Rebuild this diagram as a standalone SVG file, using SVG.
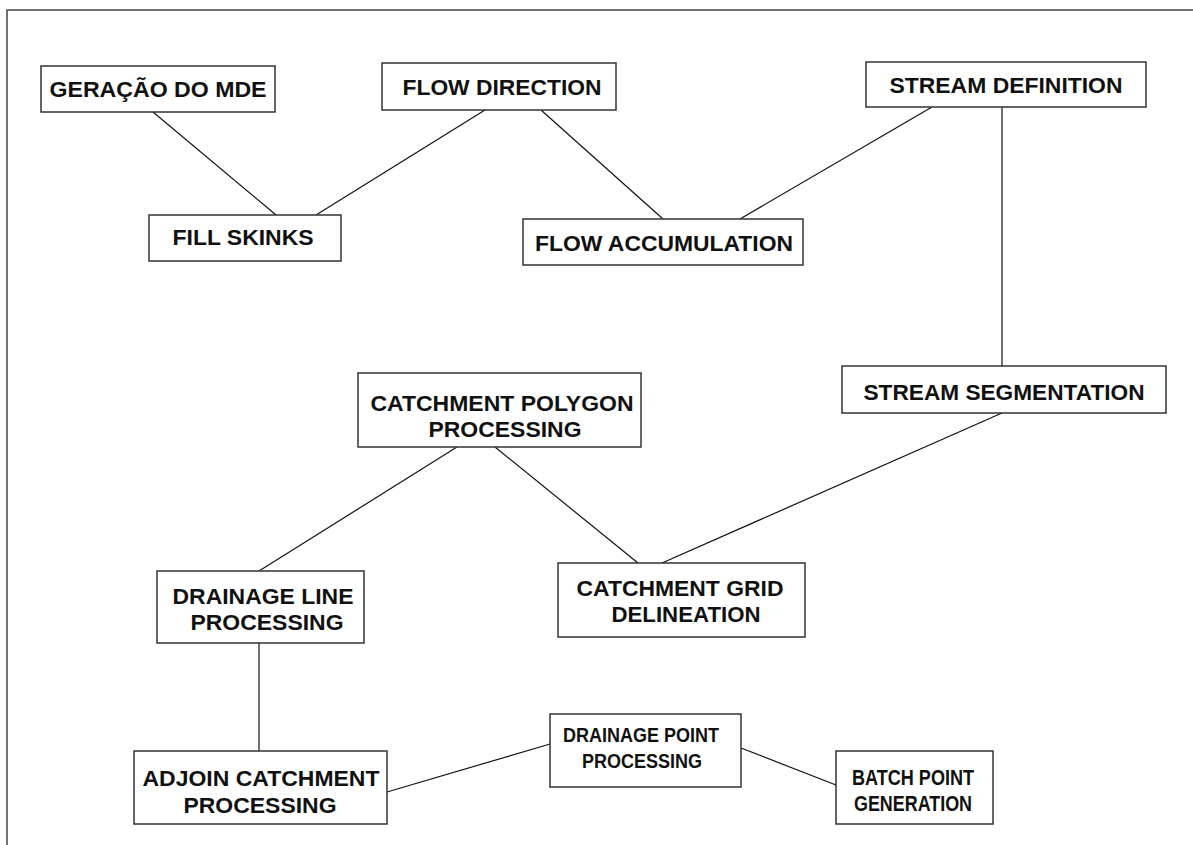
<svg xmlns="http://www.w3.org/2000/svg" width="1193" height="845" viewBox="0 0 1193 845">
<style>
  .box { fill: #ffffff; stroke: #333333; stroke-width: 1.5; }
  .lbl { font-family: "Liberation Sans", Arial, sans-serif; font-weight: bold; font-size: 22.5px; fill: #111111; text-anchor: middle; }
  .edge { stroke: #111111; stroke-width: 1.2; fill: none; }
  .frame { stroke: #444444; stroke-width: 1.5; fill: none; }
</style>
<rect x="0" y="0" width="1193" height="845" fill="#ffffff"/>
<path class="frame" d="M7,845 L7,10 L1193,10"/>

<g id="connectors">
  <line class="edge" x1="153" y1="112" x2="276" y2="215"/>
  <line class="edge" x1="485" y1="110" x2="316" y2="215"/>
  <line class="edge" x1="541" y1="110" x2="663" y2="219"/>
  <line class="edge" x1="740" y1="219" x2="932" y2="107"/>
  <line class="edge" x1="1002" y1="107" x2="1002" y2="366"/>
  <line class="edge" x1="1002" y1="413" x2="662" y2="563"/>
  <line class="edge" x1="457" y1="447" x2="259" y2="571"/>
  <line class="edge" x1="495" y1="447" x2="638" y2="563"/>
  <line class="edge" x1="259" y1="643" x2="259" y2="751"/>
  <line class="edge" x1="387" y1="792" x2="550" y2="744"/>
  <line class="edge" x1="741" y1="748" x2="836" y2="785"/>
</g>

<g id="node-geracao">
  <rect class="box" x="41" y="66" width="234" height="46"/>
  <text class="lbl" x="158" y="97" textLength="217" lengthAdjust="spacingAndGlyphs">GERAÇÃO DO MDE</text>
</g>
<g id="node-flow-direction">
  <rect class="box" x="382" y="63" width="234" height="47"/>
  <text class="lbl" x="502" y="95" textLength="199" lengthAdjust="spacingAndGlyphs">FLOW DIRECTION</text>
</g>
<g id="node-stream-definition">
  <rect class="box" x="866" y="62" width="280" height="45"/>
  <text class="lbl" x="1006" y="93" textLength="233" lengthAdjust="spacingAndGlyphs">STREAM DEFINITION</text>
</g>
<g id="node-fill-skinks">
  <rect class="box" x="149" y="215" width="192" height="46"/>
  <text class="lbl" x="243" y="245" textLength="141" lengthAdjust="spacingAndGlyphs">FILL SKINKS</text>
</g>
<g id="node-flow-accumulation">
  <rect class="box" x="523" y="219" width="280" height="46"/>
  <text class="lbl" x="664" y="251" textLength="258" lengthAdjust="spacingAndGlyphs">FLOW ACCUMULATION</text>
</g>
<g id="node-stream-segmentation">
  <rect class="box" x="842" y="366" width="324" height="47"/>
  <text class="lbl" x="1004" y="400" textLength="281" lengthAdjust="spacingAndGlyphs">STREAM SEGMENTATION</text>
</g>
<g id="node-catchment-polygon">
  <rect class="box" x="358" y="373" width="283" height="74"/>
  <text class="lbl" x="502" y="411" textLength="263" lengthAdjust="spacingAndGlyphs">CATCHMENT POLYGON</text>
  <text class="lbl" x="505" y="437" textLength="153" lengthAdjust="spacingAndGlyphs">PROCESSING</text>
</g>
<g id="node-drainage-line">
  <rect class="box" x="157" y="571" width="207" height="72"/>
  <text class="lbl" x="263" y="604" textLength="181" lengthAdjust="spacingAndGlyphs">DRAINAGE LINE</text>
  <text class="lbl" x="267" y="630" textLength="153" lengthAdjust="spacingAndGlyphs">PROCESSING</text>
</g>
<g id="node-catchment-grid">
  <rect class="box" x="558" y="563" width="247" height="74"/>
  <text class="lbl" x="680" y="596" textLength="207" lengthAdjust="spacingAndGlyphs">CATCHMENT GRID</text>
  <text class="lbl" x="686" y="622" textLength="149" lengthAdjust="spacingAndGlyphs">DELINEATION</text>
</g>
<g id="node-adjoin-catchment">
  <rect class="box" x="134" y="751" width="253" height="73"/>
  <text class="lbl" x="261" y="786" textLength="237" lengthAdjust="spacingAndGlyphs">ADJOIN CATCHMENT</text>
  <text class="lbl" x="260" y="813" textLength="153" lengthAdjust="spacingAndGlyphs">PROCESSING</text>
</g>
<g id="node-drainage-point">
  <rect class="box" x="550" y="714" width="191" height="73"/>
  <text class="lbl" x="641" y="742" style="font-size:20px" textLength="156" lengthAdjust="spacingAndGlyphs">DRAINAGE POINT</text>
  <text class="lbl" x="642" y="768" style="font-size:20px" textLength="120" lengthAdjust="spacingAndGlyphs">PROCESSING</text>
</g>
<g id="node-batch-point">
  <rect class="box" x="836" y="751" width="157" height="73"/>
  <text class="lbl" x="913" y="785" textLength="122" lengthAdjust="spacingAndGlyphs">BATCH POINT</text>
  <text class="lbl" x="913" y="811" textLength="118" lengthAdjust="spacingAndGlyphs">GENERATION</text>
</g>
</svg>
